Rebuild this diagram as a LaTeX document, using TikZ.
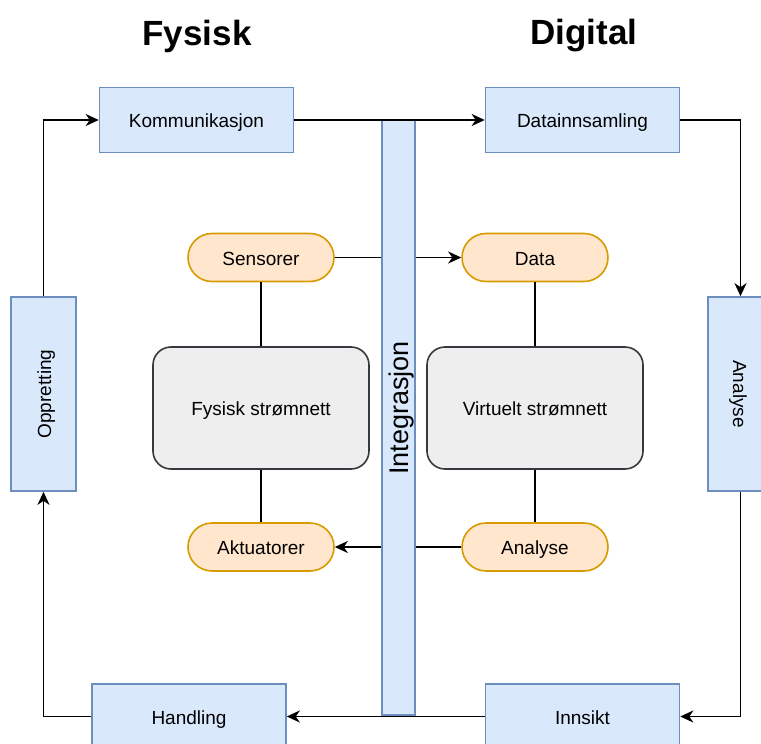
\documentclass[tikz,border=0pt]{standalone}
\usepackage{fontspec}
\setmainfont{Liberation Sans}
\usetikzlibrary{arrows.meta}
\definecolor{bluefill}{HTML}{DAE8FC}
\definecolor{bluestroke}{HTML}{6C8EBF}
\definecolor{orangefill}{HTML}{FFE6CC}
\definecolor{orangestroke}{HTML}{D79B00}
\definecolor{grayfill}{HTML}{EEEEEE}
\definecolor{graystroke}{HTML}{36393D}
\tikzset{
  label text/.style={font=\fontsize{19}{22}\selectfont, text height=16pt, text depth=1pt},
  stagebox/.style={draw=bluestroke, fill=bluefill, line width=1.6pt, inner sep=0pt,
    minimum width=194pt, minimum height=65pt, label text},
  sidebox/.style={draw=bluestroke, fill=bluefill, line width=1.6pt, inner sep=0pt,
    minimum width=65pt, minimum height=194pt},
  pill/.style={draw=orangestroke, fill=orangefill, line width=1.6pt, inner sep=0pt,
    rounded corners=24pt, minimum width=146pt, minimum height=48pt, label text},
  gridbox/.style={draw=graystroke, fill=grayfill, line width=1.6pt, inner sep=0pt,
    rounded corners=18pt, minimum width=216pt, minimum height=122pt, label text},
  title/.style={font=\fontsize{35}{40}\selectfont\bfseries},
  flow/.style={line width=1.8pt, -{Stealth[length=13pt,width=12pt,inset=4pt]}},
  link/.style={line width=1.8pt}
}
\begin{document}
\begin{tikzpicture}[x=1pt,y=-1pt]
\useasboundingbox (0,0) rectangle (761,744);

% headings
\node[title] (tfys) at (197,36) {Fysisk};
\node[title] (tdig) at (584,36) {Digital};

% outer cycle
\node[stagebox] (komm) at (196.5,120) {Kommunikasjon};
\node[stagebox] (datai) at (582.5,120) {Datainnsamling};
\node[stagebox] (handl) at (189,716.5) {Handling};
\node[stagebox] (innsikt) at (582.5,716.5) {Innsikt};
\node[sidebox] (oppr) at (43.5,394) {};
\node[label text, rotate=90] at (oppr.center) {Oppretting};
\node[sidebox] (anal) at (740.5,394) {};
\node[label text, rotate=-90] at (anal.center) {Analyse};

% inner physical / digital pair
\node[pill] (sens) at (261,257.5) {Sensorer};
\node[pill] (data) at (535,257.5) {Data};
\node[pill] (akt) at (261,547) {Aktuatorer};
\node[pill] (analp) at (535,547) {Analyse};
\node[gridbox] (fys) at (261,408) {Fysisk strømnett};
\node[gridbox] (virt) at (535,408) {Virtuelt strømnett};

\draw[link] (sens) -- (fys);
\draw[link] (fys) -- (akt);
\draw[link] (data) -- (virt);
\draw[link] (virt) -- (analp);
\draw[flow] (sens) -- (data);
\draw[flow] (analp) -- (akt);

% integration bar
\node[draw=bluestroke, fill=bluefill, line width=1.6pt, inner sep=0pt,
  minimum width=33pt, minimum height=595pt] (integ) at (398.5,417.5) {};
\node[rotate=90, font=\fontsize{27}{30}\selectfont, text height=20pt, text depth=2pt]
  at (399,408) {Integrasjon};

% cycle connectors
\draw[flow] (komm) -- (datai);
\draw[flow] (datai.east) -| (anal.north);
\draw[flow] (anal.south) |- (innsikt.east);
\draw[flow] (innsikt) -- (handl);
\draw[flow] (handl.west) -| (oppr.south);
\draw[flow] (oppr.north) |- (komm.west);
\end{tikzpicture}
\end{document}
